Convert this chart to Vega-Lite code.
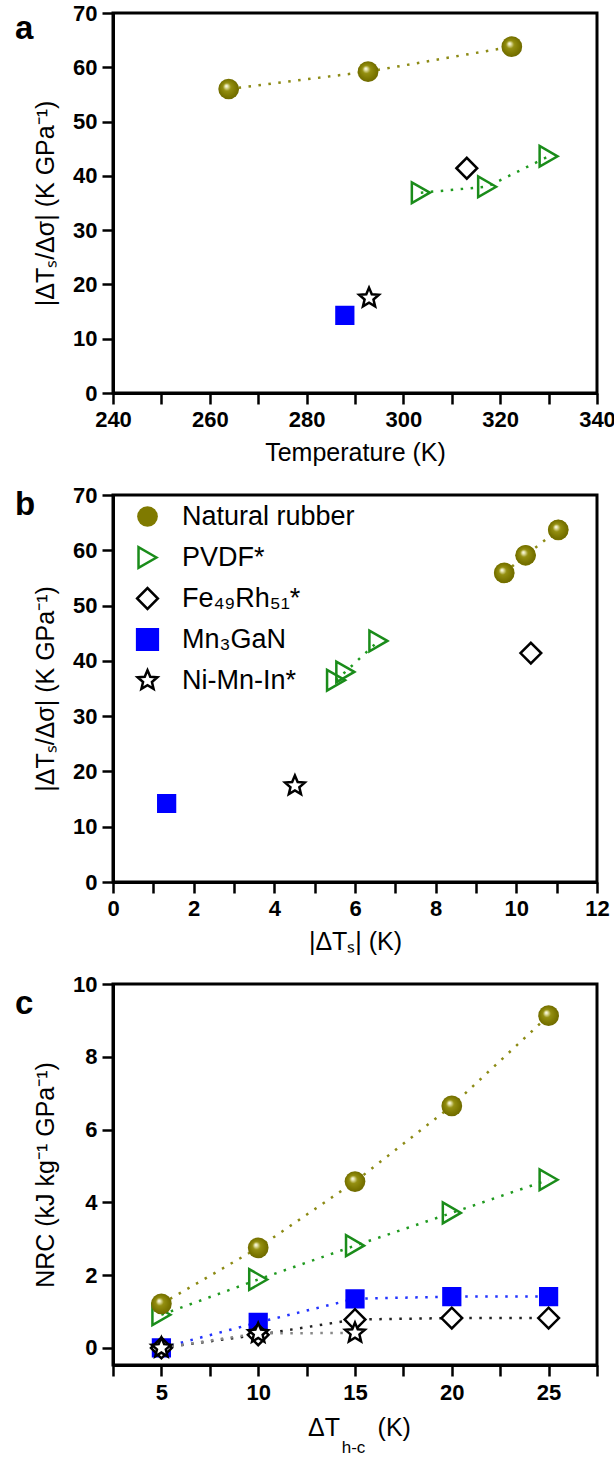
{
  "$schema": "https://vega.github.io/schema/vega-lite/v6.json",
  "padding": {"left": 13, "top": 0, "right": 5, "bottom": 0},
  "background": "white",
  "config": {
    "view": {"stroke": "black", "strokeWidth": 3},
    "axis": {
      "grid": false,
      "domainColor": "black",
      "domainWidth": 3,
      "tickColor": "black",
      "tickWidth": 2.5,
      "labelFont": "Liberation Sans",
      "labelFontWeight": 700,
      "labelFontSize": 22,
      "labelColor": "black",
      "titleFont": "Liberation Sans",
      "titleFontWeight": "normal",
      "titleFontSize": 25,
      "titleColor": "black",
      "labelFlush": false,
      "labelOverlap": false
    },
    "legend": {"labelFont": "Liberation Sans", "labelFontSize": 27, "labelColor": "black", "symbolStrokeWidth": 2.5, "labelLimit": 400},
    "title": {"font": "Liberation Sans", "fontSize": 33, "fontWeight": "bold", "color": "black"}
  },
  "resolve": {
    "scale": {"color": "independent", "shape": "independent", "fill": "independent", "stroke": "independent"}
  },
  "datasets": {
    "a": [
      {"material": "Natural rubber", "x": 263.9, "y": 56.0},
      {"material": "Natural rubber", "x": 292.7, "y": 59.2},
      {"material": "Natural rubber", "x": 322.4, "y": 63.8},
      {"material": "PVDF*", "x": 303.6, "y": 36.9},
      {"material": "PVDF*", "x": 317.3, "y": 38.0},
      {"material": "PVDF*", "x": 330.0, "y": 43.6},
      {"material": "Fe₄₉Rh₅₁*", "x": 313.1, "y": 41.4},
      {"material": "Mn₃GaN", "x": 287.9, "y": 14.3},
      {"material": "Ni-Mn-In*", "x": 292.9, "y": 17.5}
    ],
    "b": [
      {"material": "Natural rubber", "x": 9.70, "y": 55.9},
      {"material": "Natural rubber", "x": 10.23, "y": 59.1},
      {"material": "Natural rubber", "x": 11.04, "y": 63.7},
      {"material": "PVDF*", "x": 5.53, "y": 36.5},
      {"material": "PVDF*", "x": 5.76, "y": 38.0},
      {"material": "PVDF*", "x": 6.58, "y": 43.6},
      {"material": "Fe₄₉Rh₅₁*", "x": 10.36, "y": 41.4},
      {"material": "Mn₃GaN", "x": 1.33, "y": 14.2},
      {"material": "Ni-Mn-In*", "x": 4.51, "y": 17.4}
    ],
    "c": [
      {"material": "PVDF*", "x": 5, "y": 0.91},
      {"material": "PVDF*", "x": 10, "y": 1.88},
      {"material": "PVDF*", "x": 15, "y": 2.81},
      {"material": "PVDF*", "x": 20, "y": 3.71},
      {"material": "PVDF*", "x": 25, "y": 4.62},
      {"material": "Mn₃GaN", "x": 5, "y": 0.0},
      {"material": "Mn₃GaN", "x": 10, "y": 0.70},
      {"material": "Mn₃GaN", "x": 15, "y": 1.35},
      {"material": "Mn₃GaN", "x": 20, "y": 1.41},
      {"material": "Mn₃GaN", "x": 25, "y": 1.41},
      {"material": "Fe₄₉Rh₅₁*", "x": 5, "y": 0.0},
      {"material": "Fe₄₉Rh₅₁*", "x": 10, "y": 0.36},
      {"material": "Fe₄₉Rh₅₁*", "x": 15, "y": 0.78},
      {"material": "Fe₄₉Rh₅₁*", "x": 20, "y": 0.82},
      {"material": "Fe₄₉Rh₅₁*", "x": 25, "y": 0.82},
      {"material": "Ni-Mn-In*", "x": 5, "y": 0.0},
      {"material": "Ni-Mn-In*", "x": 10, "y": 0.40},
      {"material": "Ni-Mn-In*", "x": 15, "y": 0.41},
      {"material": "Natural rubber", "x": 5, "y": 1.21},
      {"material": "Natural rubber", "x": 10, "y": 2.75},
      {"material": "Natural rubber", "x": 15, "y": 4.57},
      {"material": "Natural rubber", "x": 20, "y": 6.65},
      {"material": "Natural rubber", "x": 25, "y": 9.13}
    ]
  },
  "vconcat": [
    {
      "width": 484,
      "height": 380,
      "data": {"name": "a"},
      "title": {"text": "a", "anchor": "start", "frame": "group", "dx": -98, "dy": 74, "baseline": "alphabetic"},
      "layer": [
        {
          "mark": {"type": "line", "strokeDash": [2.5, 7.5], "strokeWidth": 2.5},
          "encoding": {
            "x": {"field": "x", "type": "quantitative", "scale": {"domain": [240, 340], "nice": false, "zero": false}},
            "y": {"field": "y", "type": "quantitative", "scale": {"domain": [0, 70], "nice": false, "zero": false}},
            "color": {"field": "material", "type": "nominal", "legend": null,
              "scale": {"domain": ["Ni-Mn-In*", "Mn₃GaN", "Fe₄₉Rh₅₁*", "PVDF*", "Natural rubber"], "range": ["#888888", "#2233ff", "#222222", "#1f9a1f", "#8c8a14"]}},
            "detail": {"field": "material"}
          }
        },
        {
          "mark": {"type": "point", "filled": true, "opacity": 1, "strokeWidth": 2.5},
          "encoding": {
            "x": {"field": "x", "type": "quantitative", "title": "Temperature (K)",
              "axis": {"values": [240, 250, 260, 270, 280, 290, 300, 310, 320, 330, 340], "labelExpr": "datum.value % 20 === 0 ? datum.label : ''", "tickSize": 11, "labelPadding": 5, "titlePadding": 10, "labelFontWeight": 700}},
            "y": {"field": "y", "type": "quantitative", "title": "|ΔTₛ/Δσ| (K GPa⁻¹)",
              "axis": {"values": [0, 5, 10, 15, 20, 25, 30, 35, 40, 45, 50, 55, 60, 65, 70], "labelExpr": "datum.value % 10 === 0 ? datum.label : ''", "tickSize": 11, "labelPadding": 5, "titlePadding": 14, "labelFontWeight": 700}},
            "shape": {"field": "material", "type": "nominal", "legend": null,
              "scale": {"domain": ["Natural rubber", "PVDF*", "Fe₄₉Rh₅₁*", "Mn₃GaN", "Ni-Mn-In*"], "range": ["circle", "triangle-right", "diamond", "square", "M0,-1L0.265,-0.364L0.951,-0.309L0.428,0.139L0.588,0.809L0,0.45L-0.588,0.809L-0.428,0.139L-0.951,-0.309L-0.265,-0.364Z"]}},
            "fill": {"condition": {"test": "datum.material === 'Natural rubber'", "value": {"gradient": "radial", "x1": 0.38, "y1": 0.35, "r1": 0, "x2": 0.5, "y2": 0.5, "r2": 0.55,
                "stops": [{"offset": 0, "color": "#ffffff"}, {"offset": 0.12, "color": "#e8e6b0"}, {"offset": 0.35, "color": "#948f10"}, {"offset": 0.75, "color": "#7a7500"}, {"offset": 1, "color": "#6a6600"}]}},
              "field": "material", "type": "nominal", "legend": null,
              "scale": {"domain": ["Natural rubber", "PVDF*", "Fe₄₉Rh₅₁*", "Mn₃GaN", "Ni-Mn-In*"], "range": ["#7f7a00", "transparent", "white", "#0000ff", "white"]}},
            "stroke": {"field": "material", "type": "nominal", "legend": null,
              "scale": {"domain": ["Natural rubber", "PVDF*", "Fe₄₉Rh₅₁*", "Mn₃GaN", "Ni-Mn-In*"], "range": ["transparent", "#1a8c1a", "black", "#0000ff", "black"]}},
            "size": {"condition": {"test": "datum.material === 'Mn₃GaN'", "value": 280}, "value": 430}
          }
        }
      ]
    },
    {
      "width": 484,
      "height": 387,
      "data": {"name": "b"},
      "title": {"text": "b", "anchor": "start", "frame": "group", "dx": -98, "dy": 68, "baseline": "alphabetic"},
      "layer": [
        {
          "mark": {"type": "line", "strokeDash": [2.5, 7.5], "strokeWidth": 2.5},
          "encoding": {
            "x": {"field": "x", "type": "quantitative", "scale": {"domain": [0, 12], "nice": false, "zero": false}},
            "y": {"field": "y", "type": "quantitative", "scale": {"domain": [0, 70], "nice": false, "zero": false}},
            "color": {"field": "material", "type": "nominal", "legend": null,
              "scale": {"domain": ["Ni-Mn-In*", "Mn₃GaN", "Fe₄₉Rh₅₁*", "PVDF*", "Natural rubber"], "range": ["#888888", "#2233ff", "#222222", "#1f9a1f", "#8c8a14"]}},
            "detail": {"field": "material"}
          }
        },
        {
          "mark": {"type": "point", "filled": true, "opacity": 1, "strokeWidth": 2.5},
          "encoding": {
            "x": {"field": "x", "type": "quantitative", "title": "|ΔTₛ| (K)",
              "axis": {"values": [0, 1, 2, 3, 4, 5, 6, 7, 8, 9, 10, 11, 12], "labelExpr": "datum.value % 2 === 0 ? datum.label : ''", "tickSize": 11, "labelPadding": 5, "titlePadding": 10, "labelFontWeight": 700}},
            "y": {"field": "y", "type": "quantitative", "title": "|ΔTₛ/Δσ| (K GPa⁻¹)",
              "axis": {"values": [0, 5, 10, 15, 20, 25, 30, 35, 40, 45, 50, 55, 60, 65, 70], "labelExpr": "datum.value % 10 === 0 ? datum.label : ''", "tickSize": 11, "labelPadding": 5, "titlePadding": 14, "labelFontWeight": 700}},
            "shape": {"field": "material", "type": "nominal", "title": null,
              "scale": {"domain": ["Natural rubber", "PVDF*", "Fe₄₉Rh₅₁*", "Mn₃GaN", "Ni-Mn-In*"], "range": ["circle", "triangle-right", "diamond", "square", "M0,-1L0.265,-0.364L0.951,-0.309L0.428,0.139L0.588,0.809L0,0.45L-0.588,0.809L-0.428,0.139L-0.951,-0.309L-0.265,-0.364Z"]},
              "legend": {"orient": "none", "legendX": 21, "legendY": 8, "padding": 0, "rowPadding": 10, "labelOffset": 21, "symbolSize": 430, "labelFontSize": 27}},
            "fill": {"field": "material", "type": "nominal", "title": null,
              "scale": {"domain": ["Natural rubber", "PVDF*", "Fe₄₉Rh₅₁*", "Mn₃GaN", "Ni-Mn-In*"], "range": ["#7f7a00", "transparent", "white", "#0000ff", "white"]},
              "legend": {"orient": "none", "legendX": 21, "legendY": 8, "padding": 0, "rowPadding": 10, "labelOffset": 21, "symbolSize": 430, "labelFontSize": 27}},
            "stroke": {"field": "material", "type": "nominal", "title": null,
              "scale": {"domain": ["Natural rubber", "PVDF*", "Fe₄₉Rh₅₁*", "Mn₃GaN", "Ni-Mn-In*"], "range": ["transparent", "#1a8c1a", "black", "#0000ff", "black"]},
              "legend": {"orient": "none", "legendX": 21, "legendY": 8, "padding": 0, "rowPadding": 10, "labelOffset": 21, "symbolSize": 430, "labelFontSize": 27}},
            "size": {"condition": {"test": "datum.material === 'Mn₃GaN'", "value": 280}, "value": 430}
          }
        },
        {
          "transform": [{"filter": "datum.material === 'Natural rubber'"}],
          "mark": {"type": "point", "shape": "circle", "size": 400, "opacity": 1, "strokeWidth": 0,
            "fill": {"gradient": "radial", "x1": 0.38, "y1": 0.35, "r1": 0, "x2": 0.5, "y2": 0.5, "r2": 0.55,
              "stops": [{"offset": 0, "color": "#ffffff"}, {"offset": 0.12, "color": "#e8e6b0"}, {"offset": 0.35, "color": "#948f10"}, {"offset": 0.75, "color": "#7a7500"}, {"offset": 1, "color": "#6a6600"}]}},
          "encoding": {
            "x": {"field": "x", "type": "quantitative"},
            "y": {"field": "y", "type": "quantitative"}
          }
        }
      ]
    },
    {
      "width": 484,
      "height": 381,
      "data": {"name": "c"},
      "title": {"text": "c", "anchor": "start", "frame": "group", "dx": -98, "dy": 78, "baseline": "alphabetic"},
      "resolve": {"axis": {"x": "independent"}},
      "layer": [
        {
          "mark": {"type": "line", "strokeDash": [2.5, 7.5], "strokeWidth": 2.5},
          "encoding": {
            "x": {"field": "x", "type": "quantitative", "scale": {"domain": [2.5, 27.5], "nice": false, "zero": false},
              "axis": {"orient": "top", "title": "h-c", "labels": false, "ticks": false, "domain": false, "titleFontSize": 17, "titleX": 240, "titleY": 468, "titleAlign": "center", "titleBaseline": "alphabetic", "titleAngle": 0}},
            "y": {"field": "y", "type": "quantitative", "scale": {"domain": [-0.47, 10], "nice": false, "zero": false}},
            "color": {"field": "material", "type": "nominal", "legend": null,
              "scale": {"domain": ["Ni-Mn-In*", "Mn₃GaN", "Fe₄₉Rh₅₁*", "PVDF*", "Natural rubber"], "range": ["#888888", "#2233ff", "#222222", "#1f9a1f", "#8c8a14"]}},
            "detail": {"field": "material"}
          }
        },
        {
          "mark": {"type": "point", "filled": true, "opacity": 1, "strokeWidth": 2.5},
          "encoding": {
            "x": {"field": "x", "type": "quantitative", "title": "ΔT\u2003\u2002(K)",
              "axis": {"orient": "bottom", "values": [2.5, 5, 7.5, 10, 12.5, 15, 17.5, 20, 22.5, 25, 27.5], "labelExpr": "datum.value % 5 === 0 ? datum.label : ''", "tickSize": 11, "labelPadding": 6, "titlePadding": 12, "labelFontSize": 22, "labelFontWeight": 700, "titleX": 246}},
            "y": {"field": "y", "type": "quantitative", "title": "NRC (kJ kg⁻¹ GPa⁻¹)",
              "axis": {"values": [0, 1, 2, 3, 4, 5, 6, 7, 8, 9, 10], "labelExpr": "datum.value % 2 === 0 ? datum.label : ''", "tickSize": 11, "labelPadding": 5, "titlePadding": 14, "labelFontWeight": 700}},
            "shape": {"field": "material", "type": "nominal", "legend": null,
              "scale": {"domain": ["Natural rubber", "PVDF*", "Fe₄₉Rh₅₁*", "Mn₃GaN", "Ni-Mn-In*"], "range": ["circle", "triangle-right", "diamond", "square", "M0,-1L0.265,-0.364L0.951,-0.309L0.428,0.139L0.588,0.809L0,0.45L-0.588,0.809L-0.428,0.139L-0.951,-0.309L-0.265,-0.364Z"]}},
            "fill": {"condition": {"test": "datum.material === 'Natural rubber'", "value": {"gradient": "radial", "x1": 0.38, "y1": 0.35, "r1": 0, "x2": 0.5, "y2": 0.5, "r2": 0.55,
                "stops": [{"offset": 0, "color": "#ffffff"}, {"offset": 0.12, "color": "#e8e6b0"}, {"offset": 0.35, "color": "#948f10"}, {"offset": 0.75, "color": "#7a7500"}, {"offset": 1, "color": "#6a6600"}]}},
              "field": "material", "type": "nominal", "legend": null,
              "scale": {"domain": ["Natural rubber", "PVDF*", "Fe₄₉Rh₅₁*", "Mn₃GaN", "Ni-Mn-In*"], "range": ["#7f7a00", "transparent", "white", "#0000ff", "white"]}},
            "stroke": {"field": "material", "type": "nominal", "legend": null,
              "scale": {"domain": ["Natural rubber", "PVDF*", "Fe₄₉Rh₅₁*", "Mn₃GaN", "Ni-Mn-In*"], "range": ["transparent", "#1a8c1a", "black", "#0000ff", "black"]}},
            "size": {"condition": {"test": "datum.material === 'Mn₃GaN'", "value": 280}, "value": 430}
          }
        }
      ]
    }
  ],
  "spacing": 102,
  "bounds": "flush"
}
